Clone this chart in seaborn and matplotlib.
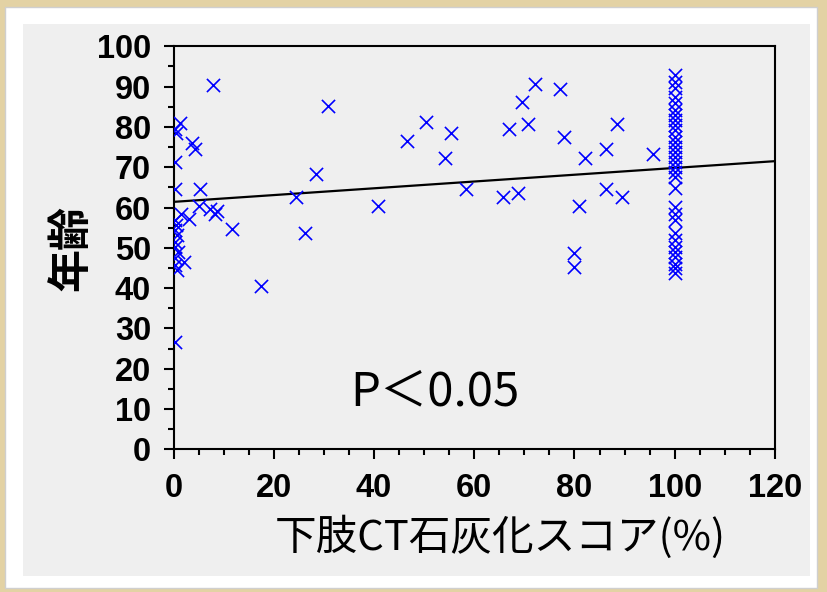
import matplotlib
matplotlib.use('Agg')
import matplotlib.pyplot as plt
from matplotlib.patches import Rectangle
from matplotlib.ticker import MultipleLocator
import seaborn as sns
import numpy as np
import pandas as pd

# ── données ────────────────────────────────────────
# score de calcification CT (%) et âge
score_pres_zero = [1.3, 0.3, 0.5, 3.6, 4.2, 0.3, 0.3, 5.3, 5.0, 7.3,
                   8.6, 8.3, 11.6, 3.0, 1.5, 0.3, 0.5, 0.3, 0.6, 0.2,
                   0.3, 0.8, 0.3, 0.2, 0.6, 2.0, 0.3, 7.9, 17.5]
age_pres_zero = [81.0, 79.6, 78.6, 75.9, 74.4, 71.4, 64.5, 64.6, 60.4, 59.6,
                 59.1, 58.3, 54.7, 57.1, 58.3, 57.0, 55.7, 54.4, 53.2, 51.5,
                 50.3, 49.0, 47.4, 45.7, 44.5, 46.6, 26.7, 90.4, 40.6]

score_milieu = [30.8, 28.4, 24.4, 26.2, 40.7, 46.6, 50.4, 55.4, 54.2, 58.4,
                65.8, 68.7, 67.0, 69.6, 72.1, 70.8, 77.1, 77.9, 82.1, 80.9,
                80.0, 80.0, 86.3, 86.2, 88.4, 89.5, 95.7]
age_milieu = [85.3, 68.2, 62.5, 53.7, 60.4, 76.5, 81.1, 78.6, 72.4, 64.6,
              62.5, 63.5, 79.5, 86.3, 90.6, 80.6, 89.4, 77.6, 72.4, 60.4,
              48.6, 45.3, 74.4, 64.6, 80.6, 62.5, 73.4]

# colonne à 100 %
age_cent = [92.9, 91.2, 89.6, 87.5, 85.9, 84.2, 83.0, 81.7, 80.5, 79.2,
            77.6, 76.3, 75.1, 73.8, 72.6, 71.4, 70.1, 68.9, 67.6, 64.8,
            60.2, 58.5, 56.9, 53.6, 51.9, 50.3, 49.0, 47.8, 46.1, 44.9, 43.7]
score_cent = [100.0] * len(age_cent)

# droite de régression (valeurs lues aux extrémités)
reg_x = [0, 120]
reg_y = [61.4, 71.5]

df = pd.DataFrame({
    'score': score_pres_zero + score_milieu + score_cent,
    'age': age_pres_zero + age_milieu + age_cent,
})

# ── figure ─────────────────────────────────────────
sns.set_style('ticks')
plt.rcParams['font.family'] = ['Noto Sans CJK JP', 'DejaVu Sans']
plt.rcParams['text.color'] = 'black'
plt.rcParams['axes.labelcolor'] = 'black'
plt.rcParams['xtick.color'] = 'black'
plt.rcParams['ytick.color'] = 'black'

fig = plt.figure(figsize=(8.27, 5.92), dpi=100)
fig.patch.set_facecolor('#e3d2a4')

# cadre blanc puis panneau gris
fig.add_artist(Rectangle((0.006, 0.0068), 0.982, 0.981,
                         transform=fig.transFigure,
                         facecolor='white', edgecolor='#cfcfcf',
                         linewidth=1.0, zorder=0))
fig.add_artist(Rectangle((0.0278, 0.027), 0.9516, 0.9325,
                         transform=fig.transFigure,
                         facecolor='#efefef', edgecolor='none', zorder=0))

ax = fig.add_axes([0.2098, 0.2410, 0.7273, 0.6808])
ax.set_facecolor('#efefef')

sns.scatterplot(data=df, x='score', y='age', ax=ax,
                marker='x', s=90, color='#0000ff',
                linewidth=1.2, zorder=3)
sns.lineplot(x=reg_x, y=reg_y, ax=ax, color='black',
             linewidth=1.6, zorder=2)

ax.set_xlim(0, 120)
ax.set_ylim(0, 100)
ax.xaxis.set_major_locator(MultipleLocator(20))
ax.xaxis.set_minor_locator(MultipleLocator(5))
ax.yaxis.set_major_locator(MultipleLocator(10))
ax.yaxis.set_minor_locator(MultipleLocator(5))

for side in ['left', 'bottom', 'top', 'right']:
    ax.spines[side].set_linewidth(1.5)
    ax.spines[side].set_color('black')

ax.tick_params(which='major', direction='out', length=7.2,
               width=1.5, color='black')
ax.tick_params(which='minor', direction='out', length=4.3,
               width=1.5, color='black')
ax.tick_params(axis='y', pad=9)
ax.tick_params(axis='x', pad=10)

police_chiffres = ['Liberation Sans', 'DejaVu Sans']
for lbl in ax.get_xticklabels() + ax.get_yticklabels():
    lbl.set_fontfamily(police_chiffres)
    lbl.set_fontsize(23.5)
    lbl.set_fontweight('bold')
    lbl.set_color('black')

ax.set_xlabel('下肢CT石灰化スコア(%)', fontsize=30,
              family=['Noto Sans CJK JP', 'DejaVu Sans'])
ax.xaxis.set_label_coords(0.543, -0.165)
ax.set_ylabel('年齢', fontsize=31, fontweight='bold', labelpad=3,
              family=['Noto Sans CJK JP', 'DejaVu Sans'])

ax.text(35.2, 11.0, 'P＜0.05', fontsize=34, ha='left', va='baseline',
        family=['Noto Sans CJK JP', 'DejaVu Sans'])

plt.savefig('out.png', dpi=100, facecolor=fig.get_facecolor())
